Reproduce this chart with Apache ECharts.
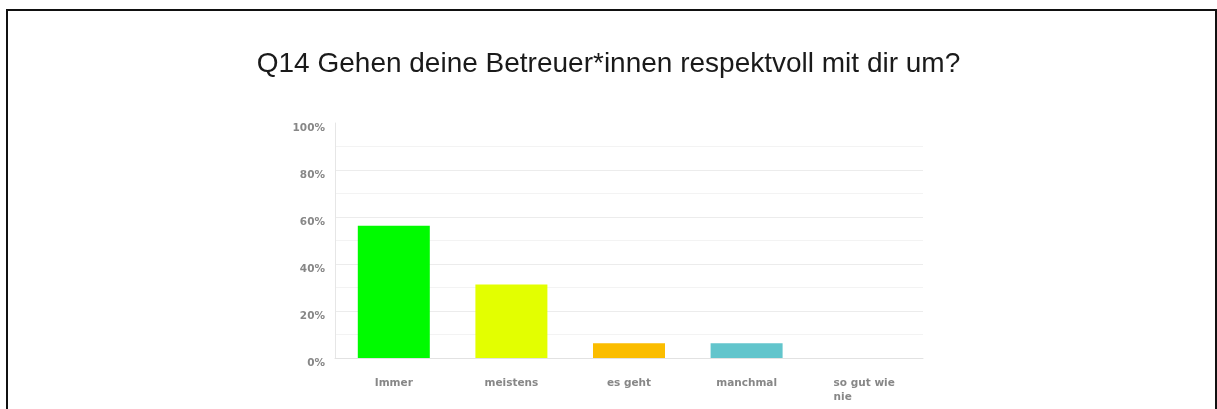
<!DOCTYPE html>
<html>
<head>
<meta charset="utf-8">
<script src="https://cdn.jsdelivr.net/npm/echarts@6/dist/echarts.min.js"></script>
<style>
  html, body { margin: 0; padding: 0; background: #fff; }
  #chart { width: 1217px; height: 409px; }
</style>
</head>
<body>
<div id="chart"></div>
<script>
// Survey question and answer options
const titleText = 'Q14 Gehen deine Betreuer*innen respektvoll mit dir um?';
const categories = ['Immer', 'meistens', 'es geht', 'manchmal', 'so gut wie nie'];
// Share of answers in percent
const values = [56.25, 31.25, 6.25, 6.25, 0];
const barColors = ['#00fb00', '#e3ff00', '#fbbd00', '#62c5cc', '#cccccc'];
const yTicks = [0, 20, 40, 60, 80, 100];

const chart = echarts.init(document.getElementById('chart'), null, { renderer: 'canvas' });

// grid lines every 10 %, the top one (100 %) left out
const gridColors = [];
for (let v = 0; v <= 100; v += 10) {
  gridColors.push(v === 100 ? 'rgba(0,0,0,0)' : (v % 20 === 0 ? '#ececec' : '#f3f3f3'));
}

const labelFont = {
  fontFamily: 'DejaVu Sans, sans-serif',
  fontSize: 10.5,
  fontWeight: 'bold',
  color: '#878787'
};

chart.setOption({
  animation: false,
  backgroundColor: '#ffffff',
  title: {
    text: titleText,
    left: 'center',
    top: 45,
    textStyle: {
      fontFamily: 'Liberation Sans, Arial, sans-serif',
      fontSize: 28,
      fontWeight: 'normal',
      color: '#1a1a1a'
    }
  },
  graphic: [{
    type: 'rect',
    shape: { x: 7, y: 10, width: 1209, height: 420 },
    style: { fill: 'none', stroke: '#111', lineWidth: 2 },
    silent: true
  }],
  grid: { left: 335, right: 294, top: 123, bottom: 51, containLabel: false },
  xAxis: {
    type: 'category',
    data: categories,
    axisLine: { show: true, lineStyle: { color: '#e2e2e2', width: 1 } },
    axisTick: { show: false },
    axisLabel: Object.assign({
      margin: 18,
      interval: 0,
      lineHeight: 14,
      formatter: function (v) {
        if (v === 'so gut wie nie') return '{l|so gut wie}\n{l|nie}';
        return v;
      },
      rich: { l: Object.assign({ align: 'left', lineHeight: 14 }, labelFont) }
    }, labelFont)
  },
  yAxis: {
    type: 'value',
    min: 0,
    max: 100,
    interval: 10,
    axisLine: { show: true, lineStyle: { color: '#e6e6e6', width: 1 } },
    axisTick: { show: false },
    splitLine: { show: true, lineStyle: { color: gridColors, width: 1 } },
    axisLabel: Object.assign({
      margin: 10,
      verticalAlign: 'top',
      formatter: function (v) {
        return yTicks.indexOf(v) >= 0 ? v + '%' : '';
      }
    }, labelFont)
  },
  series: [{
    type: 'bar',
    data: values.map(function (v, i) {
      return { value: v, itemStyle: { color: barColors[i] } };
    }),
    barWidth: 72,
    label: { show: false }
  }]
});
</script>
</body>
</html>
